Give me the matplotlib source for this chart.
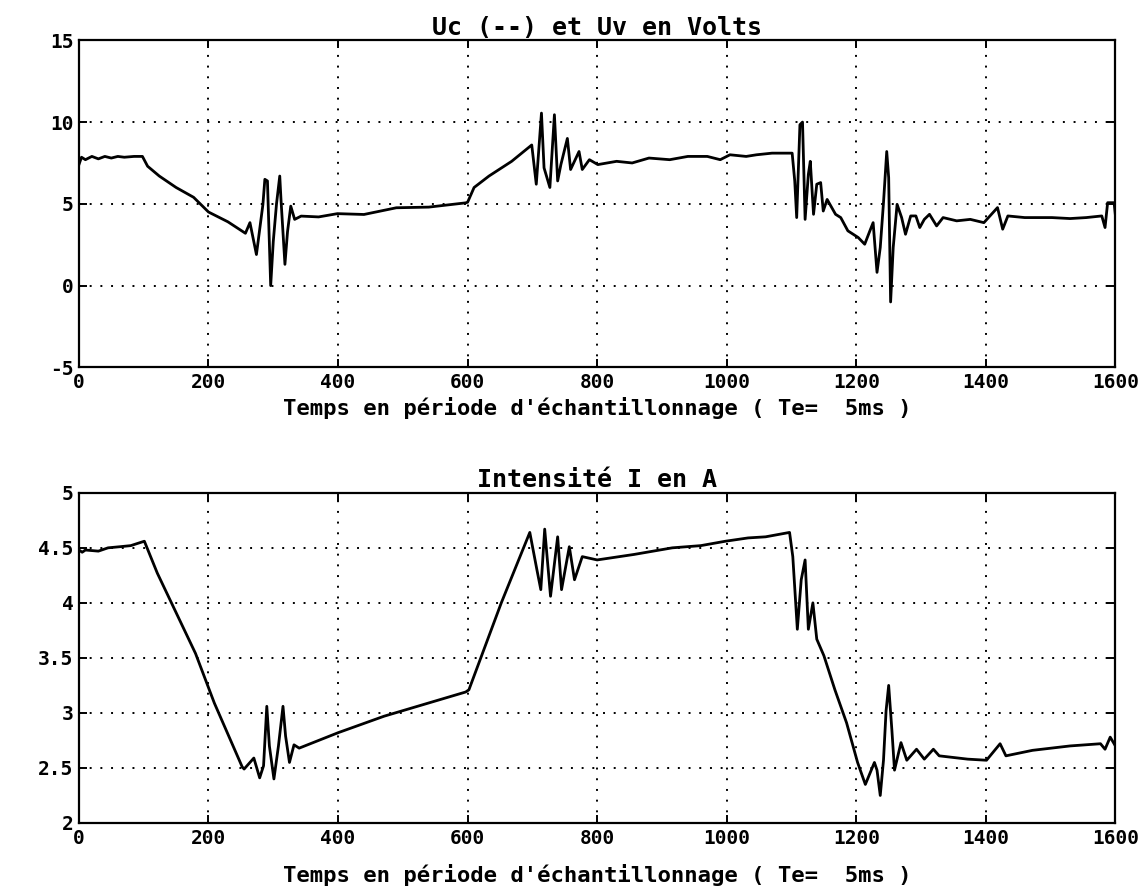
import matplotlib
matplotlib.use("Agg")
import matplotlib.pyplot as plt

# Uv (V)
t_uv = [0, 4, 10, 20, 30, 40, 50, 60, 70, 85, 98, 106, 112, 124, 150, 177, 200, 230,
        257, 264, 274, 284, 287, 291, 296, 300, 305, 310, 312, 318, 322, 327, 333,
        343, 370, 399, 440, 490, 540, 597, 600, 610, 633, 668, 699, 706, 714, 718,
        727, 734, 739, 744, 754, 759, 772, 777, 788, 801, 830, 854, 880, 912, 940,
        970, 990, 1005, 1030, 1046, 1070, 1101, 1105, 1108, 1113, 1117, 1121, 1126,
        1129, 1134, 1139, 1145, 1149, 1155, 1168, 1176, 1187, 1203, 1213, 1221,
        1226, 1232, 1237, 1242, 1247, 1250, 1253, 1257, 1263, 1270, 1276, 1284,
        1292, 1298, 1305, 1313, 1324, 1334, 1355, 1376, 1397, 1418, 1426, 1434,
        1460, 1502, 1530, 1555, 1579, 1584, 1588, 1598, 1600]
uv = [7.4, 7.85, 7.7, 7.9, 7.75, 7.9, 7.8, 7.9, 7.85, 7.9, 7.9, 7.3, 7.1, 6.7, 6.0,
      5.4, 4.5, 3.9, 3.2, 3.85, 1.9, 4.96, 6.5, 6.4, 0.0, 2.7, 5.0, 6.7, 5.2, 1.3,
      3.3, 4.86, 4.05, 4.25, 4.2, 4.4, 4.35, 4.76, 4.8, 5.06, 5.1, 6.0, 6.7, 7.6,
      8.6, 6.2, 10.55, 7.2, 6.0, 10.45, 6.4, 7.4, 9.0, 7.1, 8.2, 7.1, 7.7, 7.4, 7.6,
      7.5, 7.8, 7.7, 7.9, 7.9, 7.7, 8.0, 7.9, 8.0, 8.1, 8.1, 6.4, 4.16, 9.84, 10.0,
      4.05, 6.8, 7.6, 4.36, 6.2, 6.3, 4.56, 5.27, 4.36, 4.16, 3.35, 2.94, 2.53,
      3.35, 3.85, 0.81, 2.33, 5.07, 8.2, 6.6, -1.0, 2.33, 4.97, 4.16, 3.14, 4.26,
      4.26, 3.55, 4.05, 4.36, 3.65, 4.16, 3.96, 4.05, 3.85, 4.77, 3.45, 4.26, 4.16,
      4.16, 4.1, 4.16, 4.26, 3.55, 5.07, 5.07, 4.3]

# Intensite I (A)
t_i = [0, 5, 10, 30, 45, 63, 80, 101, 121, 180, 209, 252, 255, 270, 279, 285, 290,
       294, 301, 308, 315, 319, 325, 332, 340, 400, 471, 597, 602, 652, 696, 707,
       713, 719, 728, 739, 745, 757, 765, 777, 800, 857, 916, 960, 998, 1033, 1060,
       1097, 1102, 1109, 1115, 1121, 1126, 1133, 1139, 1150, 1167, 1185, 1202,
       1214, 1228, 1232, 1237, 1242, 1246, 1250, 1255, 1259, 1269, 1278, 1293,
       1305, 1319, 1328, 1372, 1401, 1422, 1431, 1472, 1530, 1577, 1584, 1592, 1600]
i_a = [4.48, 4.46, 4.48, 4.47, 4.50, 4.51, 4.52, 4.56, 4.27, 3.54, 3.09, 2.51, 2.49,
       2.59, 2.41, 2.52, 3.06, 2.70, 2.40, 2.70, 3.06, 2.79, 2.55, 2.71, 2.68, 2.82,
       2.97, 3.19, 3.21, 4.0, 4.64, 4.3, 4.12, 4.67, 4.06, 4.6, 4.12, 4.51, 4.21,
       4.42, 4.39, 4.44, 4.50, 4.52, 4.56, 4.59, 4.60, 4.64, 4.42, 3.76, 4.21, 4.39,
       3.76, 4.0, 3.67, 3.52, 3.21, 2.91, 2.55, 2.35, 2.55, 2.48, 2.25, 2.57, 3.02,
       3.25, 2.84, 2.48, 2.73, 2.57, 2.67, 2.58, 2.67, 2.61, 2.58, 2.57, 2.72, 2.61,
       2.66, 2.70, 2.72, 2.67, 2.78, 2.70]

x_ticks = [0, 200, 400, 600, 800, 1000, 1200, 1400, 1600]
xlabel = "Temps en période d'échantillonnage ( Te=  5ms )"

plt.rcParams["font.family"] = "DejaVu Sans Mono"
plt.rcParams["font.weight"] = "bold"

fig = plt.figure(figsize=(11.44, 8.96), dpi=100)
ax1 = fig.add_axes([0.069, 0.590, 0.906, 0.365])
ax2 = fig.add_axes([0.069, 0.0815, 0.906, 0.3685])


def style(ax, yticks, ylabels, lpad):
    ax.set_xlim(0, 1600)
    ax.set_ylim(yticks[0], yticks[-1])
    ax.set_xticks(x_ticks)
    ax.set_yticks(yticks)
    ax.set_yticklabels(ylabels)
    ax.grid(True, color="black", linestyle=(0, (1, 4.5)), linewidth=1.4)
    ax.tick_params(direction="in", length=6, width=1.4, top=True, right=True,
                   labelsize=14, pad=4)
    for s in ax.spines.values():
        s.set_linewidth(1.6)
    ax.set_xlabel(xlabel, fontsize=16, fontweight="bold", labelpad=lpad)


ax1.plot(t_uv, uv, color="black", linewidth=2.0)
style(ax1, [-5, 0, 5, 10, 15], ["-5", "0", "5", "10", "15"], 4)
ax1.set_title("Uc (--) et Uv en Volts", fontsize=18, fontweight="bold", pad=4)

ax2.plot(t_i, i_a, color="black", linewidth=2.0)
style(ax2, [2, 2.5, 3, 3.5, 4, 4.5, 5], ["2", "2.5", "3", "3.5", "4", "4.5", "5"], 12)
ax2.set_title("Intensité I en A", fontsize=18, fontweight="bold", pad=4)

fig.savefig("out.png", dpi=100)
